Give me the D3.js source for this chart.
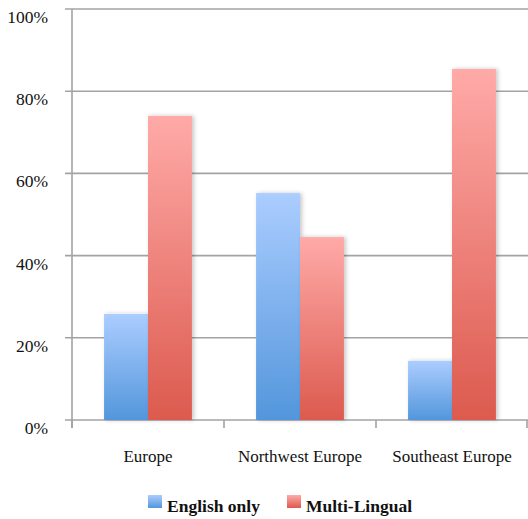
<!DOCTYPE html>
<html><head><meta charset="utf-8">
<script src="https://cdn.jsdelivr.net/npm/d3@7"></script>
<style>body{margin:0;background:#fff}svg{display:block}text{font-family:"Liberation Serif","Times New Roman",serif}</style>
</head><body>
<script>
const categories = ["Europe", "Northwest Europe", "Southeast Europe"];
const seriesNames = ["English only", "Multi-Lingual"];
const englishOnly = [25.8, 55.2, 14.4];
const multiLingual = [74.0, 44.5, 85.4];
const yTicks = [0, 20, 40, 60, 80, 100];

const W = 528, H = 519;
const svg = d3.select("body").append("svg").attr("width", W).attr("height", H);
const defs = svg.append("defs");
const grads = [["gBlue", "#abcdff", "#5396dc"], ["gRed", "#ffaaa8", "#dc5a4e"]];
grads.forEach(([id, c1, c2]) => {
  const g = defs.append("linearGradient").attr("id", id).attr("x1", 0).attr("y1", 0).attr("x2", 0).attr("y2", 1);
  g.append("stop").attr("offset", "0%").attr("stop-color", c1);
  g.append("stop").attr("offset", "100%").attr("stop-color", c2);
});
const f = defs.append("filter").attr("id", "sh").attr("x", "-20%").attr("y", "-10%").attr("width", "150%").attr("height", "120%");
f.append("feDropShadow").attr("dx", 2).attr("dy", 0).attr("stdDeviation", 2).attr("flood-color", "#000").attr("flood-opacity", 0.22);

const x0 = d3.scaleBand().domain(categories).range([72, 528]).paddingInner(0).paddingOuter(0);
const x1 = d3.scaleBand().domain(seriesNames).range([0, x0.bandwidth()]).paddingOuter(0.73).paddingInner(0);
const y = d3.scaleLinear().domain([0, 100]).range([420, 9]);

// gridlines
svg.append("g").selectAll("line").data(yTicks).join("line")
  .attr("x1", 65).attr("x2", W).attr("y1", d => y(d)).attr("y2", d => y(d))
  .attr("stroke", "#a3a3a3").attr("stroke-width", 1.6);
// y axis line
svg.append("line").attr("x1", 72).attr("x2", 72).attr("y1", y(100)).attr("y2", 428)
  .attr("stroke", "#a3a3a3").attr("stroke-width", 1.6);
// category ticks
const tickX = categories.map(c => x0(c)).concat([x0.range()[1] - 1]);
svg.append("g").selectAll("line").data(tickX).join("line")
  .attr("x1", d => d).attr("x2", d => d)
  .attr("y1", 420).attr("y2", 428).attr("stroke", "#a3a3a3").attr("stroke-width", 1.6);

// y labels
svg.append("g").selectAll("text").data(yTicks).join("text")
  .attr("x", 48).attr("y", d => y(d) + 14).attr("text-anchor", "end")
  .attr("font-size", 17.5).attr("fill", "#111")
  .text(d => d + "%");

// bars
const data = categories.map((c, i) => ({c, vals: [englishOnly[i], multiLingual[i]]}));
const gCat = svg.append("g").selectAll("g").data(data).join("g").attr("transform", d => `translate(${x0(d.c)},0)`);
gCat.selectAll("rect").data(d => d.vals.map((v, k) => ({k, v}))).join("rect")
  .attr("x", d => x1(seriesNames[d.k])).attr("width", x1.bandwidth())
  .attr("y", d => y(d.v)).attr("height", d => y(0) - y(d.v))
  .attr("fill", d => d.k === 0 ? "url(#gBlue)" : "url(#gRed)")
  .attr("filter", "url(#sh)");

// category labels
svg.append("g").selectAll("text").data(categories).join("text")
  .attr("x", d => x0(d) + x0.bandwidth() / 2).attr("y", 462).attr("text-anchor", "middle")
  .attr("font-size", 17).attr("fill", "#111")
  .text(d => d);

// legend
const leg = svg.append("g");
const lx = [148, 287];
seriesNames.forEach((s, k) => {
  leg.append("rect").attr("x", lx[k]).attr("y", 495).attr("width", 14).attr("height", 13)
    .attr("fill", k === 0 ? "url(#gBlue)" : "url(#gRed)");
  leg.append("text").attr("x", lx[k] + 19).attr("y", 512)
    .attr("font-size", 17.5).attr("font-weight", "bold").attr("fill", "#111")
    .text(s);
});
</script>
</body></html>
